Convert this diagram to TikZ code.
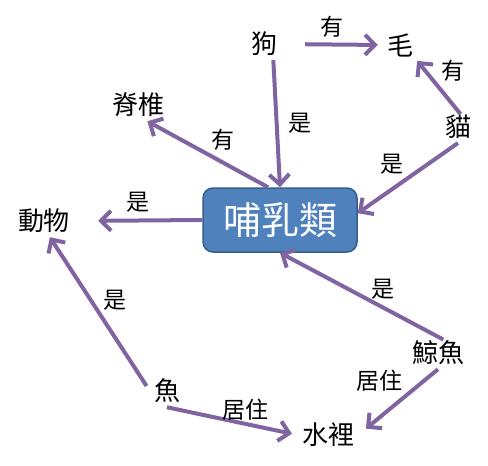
\documentclass[tikz,border=0pt]{standalone}
\usepackage{fontspec}
\setmainfont{Noto Sans CJK TC}
\usetikzlibrary{arrows.meta}
\definecolor{arrowpurple}{HTML}{8064A2}
\definecolor{boxblue}{HTML}{4F81BD}
\definecolor{boxedge}{HTML}{385D8A}
\begin{document}
\begin{tikzpicture}[x=1pt,y=-1pt,
    word/.style={font=\fontsize{26}{26}\selectfont, inner sep=4pt},
    rel/.style={font=\fontsize{23}{23}\selectfont, inner sep=2pt},
    core/.style={draw=boxedge, line width=1.5pt, fill=boxblue, rounded corners=10pt,
      text=white, minimum width=154pt, minimum height=64pt, font=\fontsize{38}{38}\selectfont}]
  \useasboundingbox (0,0) rectangle (488,466);
  \draw
    (264,44) node[word] (dog){狗}
    (400,45) node[word] (fur){毛}
    (458,127) node[word] (cat){貓}
    (138,105) node[word] (spine){脊椎}
    (44,221) node[word] (animal){動物}
    (280,220) node[core] (mammal){哺乳類}
    (438,353) node[word] (whale){鯨魚}
    (328,435) node[word] (water){水裡}
    (167,391) node[word] (fish){魚};
  \begin{scope}[-{Straight Barb[length=10pt,width=20pt]}, line width=4pt, draw=arrowpurple]
    \draw[shorten <=24pt, shorten >=5pt] (dog.east) to node[rel, above=3pt]{有} (fur.west);
    \draw[shorten <=-4pt] (cat.north) to node[rel, above right]{有} (fur.south east);
    \draw (dog.-60) to node[rel, right=8pt]{是} (mammal.north);
    \draw (mammal.110) to node[rel, above right]{有} (spine.-60);
    \draw[shorten >=24pt] (mammal.west) to node[rel, above=4pt]{是} (animal.east);
    \draw (cat.south) to node[rel, above left]{是} (mammal.5);
    \draw[shorten <=-6pt] (whale.north) to node[rel, pos=.35, above=4pt]{是} (mammal.south);
    \draw[shorten >=10pt] (whale.south) to node[rel, pos=.4, above left]{居住} (water.east);
    \draw[shorten >=6pt] (fish.south) to node[rel, pos=.6, above]{居住} (water.west);
    \draw[shorten <=6pt] (fish.west) to node[rel, above right]{是} (animal.-70);
  \end{scope}
\end{tikzpicture}
\end{document}
